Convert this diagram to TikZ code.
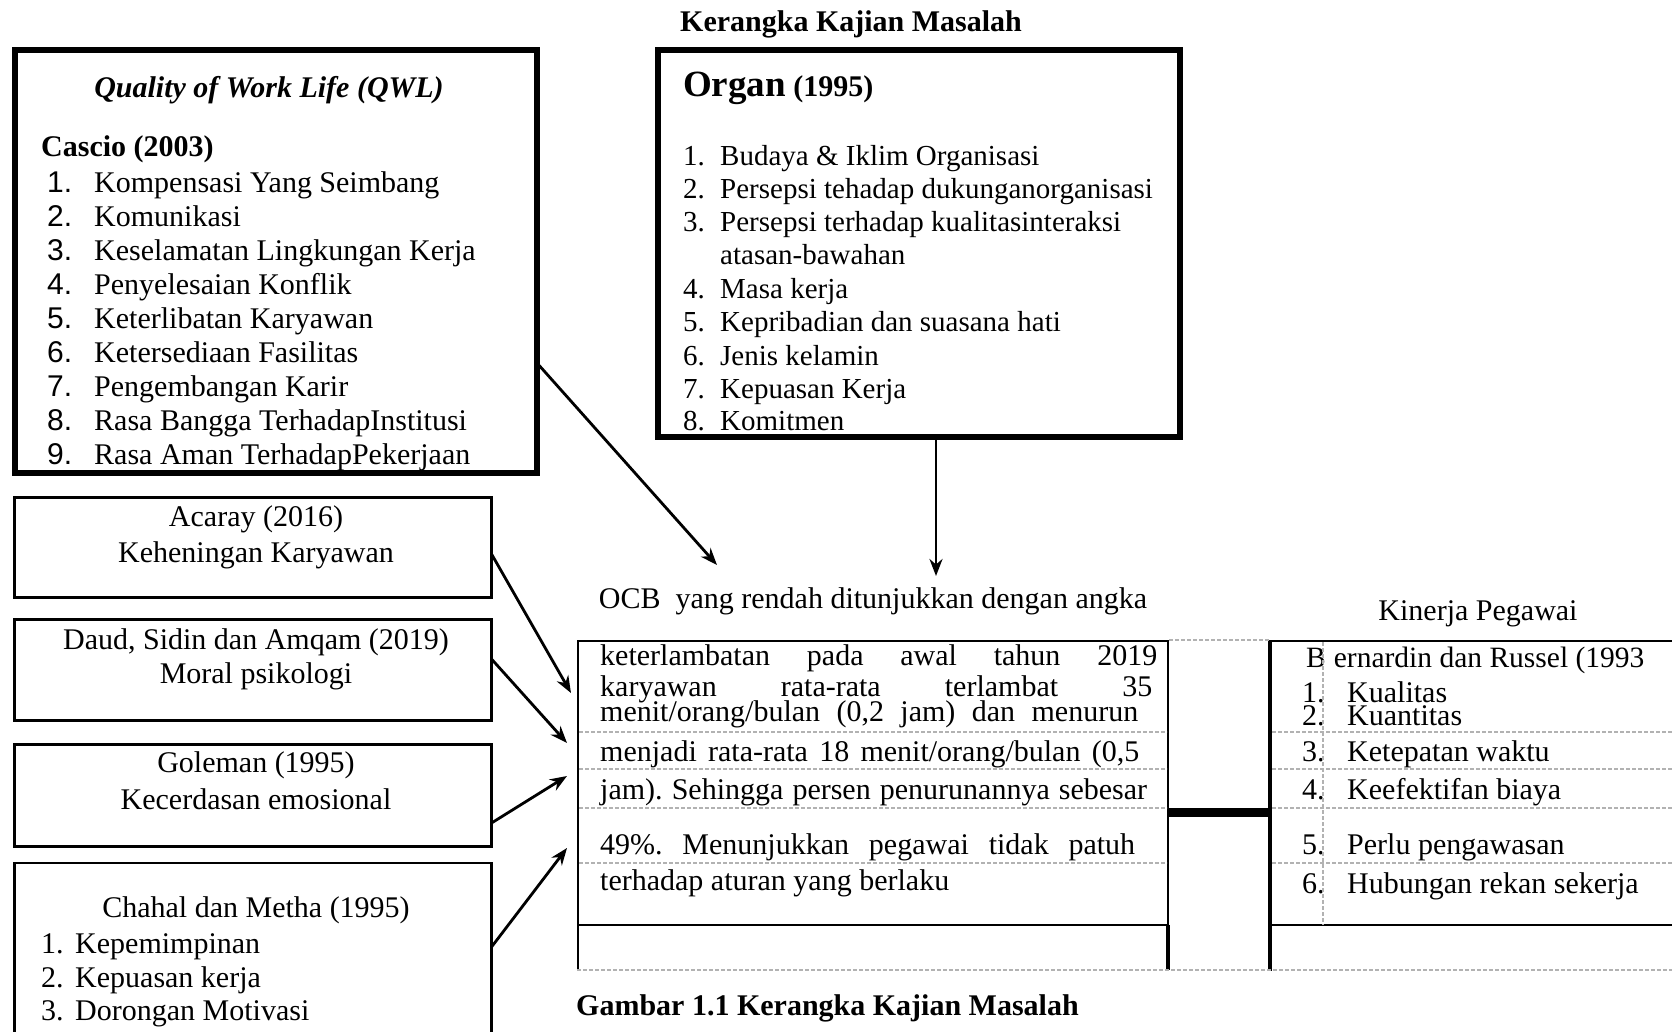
\documentclass[tikz,border=0pt]{standalone}
\usepackage{fontspec}
\setmainfont{Liberation Serif}
\newfontfamily\numfont{Liberation Sans}
\usetikzlibrary{arrows.meta,positioning}
\frenchspacing

\tikzset{
  thickbox/.style={draw,line width=6pt,inner sep=0pt,outer sep=0pt},
  thinbox/.style={draw,line width=2.6pt,inner sep=0pt,outer sep=0pt},
  txt/.style={inner sep=0pt,anchor=west,text height=21pt,text depth=2pt},
  ctxt/.style={inner sep=0pt,text height=21pt,text depth=2pt},
  arr/.style={line width=2.8pt,-{Stealth[length=17pt,width=13pt]}},
  rowline/.style={draw=black!30,dash pattern=on 4pt off 2pt,line width=1.2pt},
}

\begin{document}
\begin{tikzpicture}[x=1pt,y=-1pt,font=\fontsize{30}{34}\selectfont]
\useasboundingbox (0,0) rectangle (1672,1031);
\clip (0,0) rectangle (1672,1031);
\fill[white] (0,0) rectangle (1672,1031);

\node[ctxt] (title) at (851,22) {\bfseries Kerangka Kajian Masalah};

\node[thickbox,minimum width=522pt,minimum height=423pt] (qwl) at (276,261.5) {};
\node[ctxt] (qwlhead) at (269,88) {\bfseries\itshape Quality of Work Life (QWL)};
\node[txt] (cascio) at (41,147) {\bfseries Cascio (2003)};
\foreach \t [count=\i] in {Kompensasi Yang Seimbang,Komunikasi,Keselamatan Lingkungan Kerja,Penyelesaian Konflik,Keterlibatan Karyawan,Ketersediaan Fasilitas,Pengembangan Karir,Rasa Bangga TerhadapInstitusi,Rasa Aman TerhadapPekerjaan}{
  \node[txt] (qwln\i) at (47,{149+34*\i}) {\numfont\i.};
  \node[txt] (qwli\i) at (94,{149+34*\i}) {\t};
}

\node[thickbox,minimum width=522pt,minimum height=387pt] (organ) at (919,243.5) {};
\node[anchor=base west,inner sep=0pt] (organhead) at (683,96) {{\fontsize{37}{40}\selectfont\bfseries Organ} \bfseries(1995)};
\foreach \n/\y/\t in {1/156/Budaya \& Iklim Organisasi,2/189/Persepsi tehadap dukunganorganisasi,3/222/Persepsi terhadap kualitasinteraksi,4/289/Masa kerja,5/322/Kepribadian dan suasana hati,6/356/Jenis kelamin,7/389/Kepuasan Kerja,8/421/Komitmen}{
  \node[txt,font=\fontsize{29}{34}\selectfont] (organn\n) at (683,\y) {\n.};
  \node[txt,font=\fontsize{29}{34}\selectfont] (organi\n) at (720,\y) {\t};
}
\node[txt,font=\fontsize{29}{34}\selectfont] (organi3b) at (720,255) {atasan-bawahan};

\node[thinbox,minimum width=477pt,minimum height=100pt] (acaray) at (253,547.5) {};
\node[ctxt] (acaraya) at (256,517) {Acaray (2016)};
\node[ctxt] (acarayb) at (256,553) {Keheningan Karyawan};
\node[thinbox,minimum width=477pt,minimum height=101pt] (daud) at (253,670) {};
\node[ctxt] (dauda) at (256,640) {Daud, Sidin dan Amqam (2019)};
\node[ctxt] (daudb) at (256,674) {Moral psikologi};
\node[thinbox,minimum width=477pt,minimum height=102pt] (goleman) at (253,795.5) {};
\node[ctxt] (golemana) at (256,763) {Goleman (1995)};
\node[ctxt] (golemanb) at (256,800) {Kecerdasan emosional};
\node[thinbox,minimum width=477pt,minimum height=196pt] (chahal) at (253,961) {};
\node[ctxt] (chahala) at (256,908) {Chahal dan Metha (1995)};
\foreach \n/\y/\t in {1/944/Kepemimpinan,2/978/Kepuasan kerja,3/1011/Dorongan Motivasi}{
  \node[txt] (chahaln\n) at (41,\y) {\n.};
  \node[txt] (chahali\n) at (75,\y) {\t};
}

\node[ctxt] (ocb) at (873,599) {OCB\ \ yang rendah ditunjukkan dengan angka};
\node[thinbox,minimum width=590pt,minimum height=284pt] (ocbtab) at (873,783) {};
\draw[line width=2.6pt] (ocbtab.south west) -- ++(0,45);
\draw[line width=3.2pt] (ocbtab.south east) -- ++(0,45);
\node[txt] (ocbl1) at (600,656) {\makebox[557pt][s]{keterlambatan pada awal tahun 2019}};
\node[txt] (ocbl2) at (600,687) {\makebox[552pt][s]{karyawan rata-rata terlambat 35}};
\node[txt] (ocbl3) at (600,712) {\makebox[538pt][s]{menit/orang/bulan (0,2 jam) dan menurun}};
\node[txt] (ocbl4) at (600,752) {\makebox[539pt][s]{menjadi rata-rata 18 menit/orang/bulan (0,5}};
\node[txt] (ocbl5) at (600,790) {\makebox[547pt][s]{jam). Sehingga persen penurunannya sebesar}};
\node[txt] (ocbl6) at (600,845) {\makebox[535pt][s]{49\%. Menunjukkan pegawai tidak patuh}};
\node[txt] (ocbl7) at (600,881) {terhadap aturan yang berlaku};

\node[ctxt] (kinerja) at (1478,611) {Kinerja Pegawai};
\node[thinbox,minimum width=431pt,minimum height=284pt] (kinerjatab) at (1485.5,783) {};
\draw[line width=4.5pt] (kinerjatab.north west) -- ++(0,330);
\node[txt,font=\fontsize{29.5}{34}\selectfont] (bernardin) at (1306,658) {B\kern8pt ernardin dan Russel (1993};
\foreach \n/\y/\t in {1/693/Kualitas,2/716/Kuantitas,3/752/Ketepatan waktu,4/790/Keefektifan biaya,5/845/Perlu pengawasan,6/884/Hubungan rekan sekerja}{
  \node[txt] (kinerjan\n) at (1302,\y) {\n.};
  \node[txt] (kinerjai\n) at (1347,\y) {\t};
}

\foreach \y in {732,769,808,863}{
  \draw[rowline] (579,\y) -- (1167,\y);
  \draw[rowline] (1272,\y) -- (1672,\y);
}
\draw[rowline] (1169,640) -- (1270,640);
\draw[rowline] (577,970) -- (1672,970);
\draw[rowline] (1323,642) -- (1323,925);

\draw[line width=9pt] ([yshift=-29pt]ocbtab.east) -- ([yshift=-29pt]kinerjatab.west);

\coordinate (qwltip) at (717,565);
\coordinate (organtip) at (936,576);
\coordinate (acaraytip) at (571,693);
\coordinate (daudtip) at (567,743);
\coordinate (golemantip) at (567,776);
\coordinate (chahaltip) at (567,848);
\draw[arr] ([yshift=-101.5pt]qwl.east) -- (qwltip);
\draw[arr] (organtip |- organ.south) -- (organtip);
\draw[arr] ([yshift=-6.5pt]acaray.east) -- (acaraytip);
\draw[arr] ([yshift=11pt]daud.east) -- (daudtip);
\draw[arr] ([yshift=-27.5pt]goleman.east) -- (golemantip);
\draw[arr] ([yshift=14pt]chahal.east) -- (chahaltip);

\node[txt] (caption) at (576,1006) {\bfseries Gambar 1.1 Kerangka Kajian Masalah};
\end{tikzpicture}
\end{document}
